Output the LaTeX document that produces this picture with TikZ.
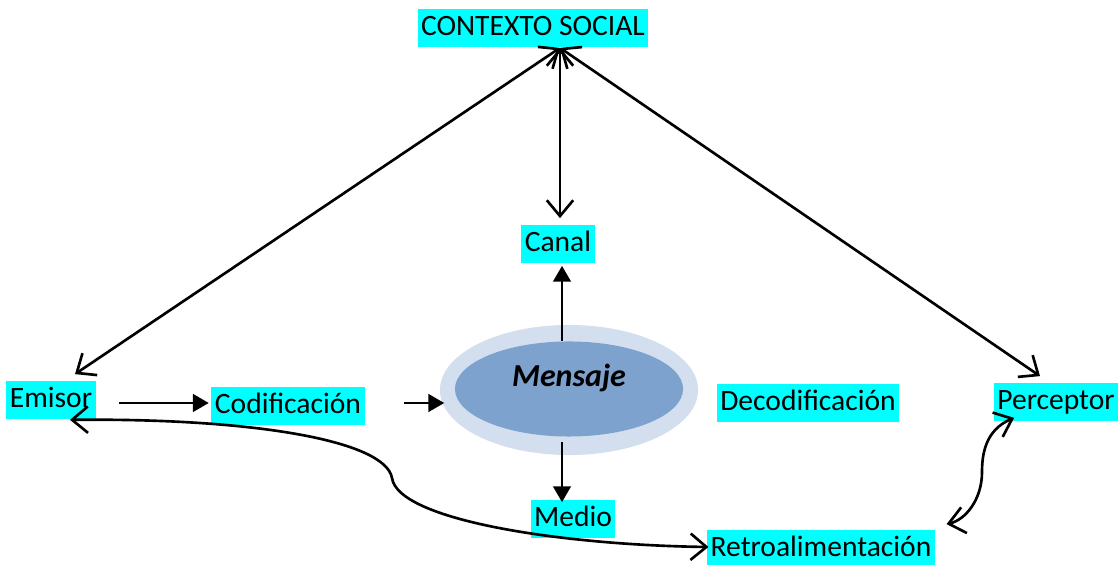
\documentclass[tikz,border=0pt]{standalone}
\usepackage{fontspec}
\setmainfont{Carlito}
\usetikzlibrary{positioning}
\usetikzlibrary{arrows.meta,shapes}
\usetikzlibrary{calc}
\definecolor{boxcyan}{RGB}{0,255,255}
\definecolor{ringblue}{RGB}{211,223,238}
\definecolor{coreblue}{RGB}{124,162,205}
\tikzstyle{tag}=[fill=boxcyan,inner xsep=1pt,inner ysep=0.9pt,text height=6.6pt,text depth=2.5pt,font=\fontsize{8.4}{10}\selectfont]
\tikzstyle{link} = [draw,line width=0.75pt,{Straight Barb[length=4.5pt,width=7.5pt]}-{Straight Barb[length=4.5pt,width=7.5pt]}]
\tikzstyle{flow} = [draw,line width=0.75pt,-{Triangle[length=4.5pt,width=5pt]}]

\begin{document}
\begin{tikzpicture}[x=0.01cm,y=-0.01cm]

    \useasboundingbox (0,0) rectangle (1119,565);

%Mensaje
    \node[ellipse,fill=ringblue,minimum width=2.58cm,minimum height=1.30cm,inner sep=0pt] (ring) at (569,390) {};
    \node[ellipse,fill=coreblue,minimum width=2.28cm,minimum height=0.95cm,inner sep=0pt] (core) at (569,389) {};
    \node[font=\fontsize{9.1}{11}\selectfont\bfseries\itshape] (msg) at (569,378) {Mensaje};

%Labels
    \foreach \pos/\name/\label in {{(533,28)/ctx/CONTEXTO SOCIAL}, {(558,244)/canal/Canal}, {(51,400)/emisor/Emisor}, {(288,406)/codif/Codificación}, {(808,403)/decod/Decodificación}, {(1056,402)/perceptor/Perceptor}, {(573,519)/medio/Medio}, {(821,549)/retro/Retroalimentación}}
        \node[tag] (\name) at \pos {\label};

% Edges
    \coordinate (hub) at ($(ctx.south)+(27,0)$);
    \path[link] (hub) -- ($(emisor.north)+(24,-6)$);
    \path[link] (hub) -- ($(hub |- canal.north)+(0,-6)$);
    \path[link] (hub) -- ($(perceptor.north)+(-16,-6)$);

    \path[flow] ($(core.north)+(-7,0)$) -- ($(core.north |- canal.south)+(-7,2)$);
    \path[flow] ($(core.south)+(-7,5)$) -- ($(core.south |- medio.north)+(-7,3)$);
    \path[flow] ($(emisor.east)+(23,3)$) -- ($(codif.west)+(-2,-3)$);
    \path[flow] ($(codif.east)+(39,-3)$) -- ($(ring.west)+(5,13)$);

%Retroalimentacion
    \coordinate (loopend) at ($(retro.north east)+(11,-5)$);
    \path[link] ($(emisor.south)+(19,0)$) .. controls (250,418) and (385,440) .. (392,478) .. controls (398,520) and (560,545) .. ($(retro.west)+(2,-2)$);
    \path[link] ($(perceptor.south west)+(21,-4)$) .. controls (985,430) and (982,455) .. (982,472) .. controls (982,500) and (965,520) .. (loopend);

\end{tikzpicture}
\end{document}
